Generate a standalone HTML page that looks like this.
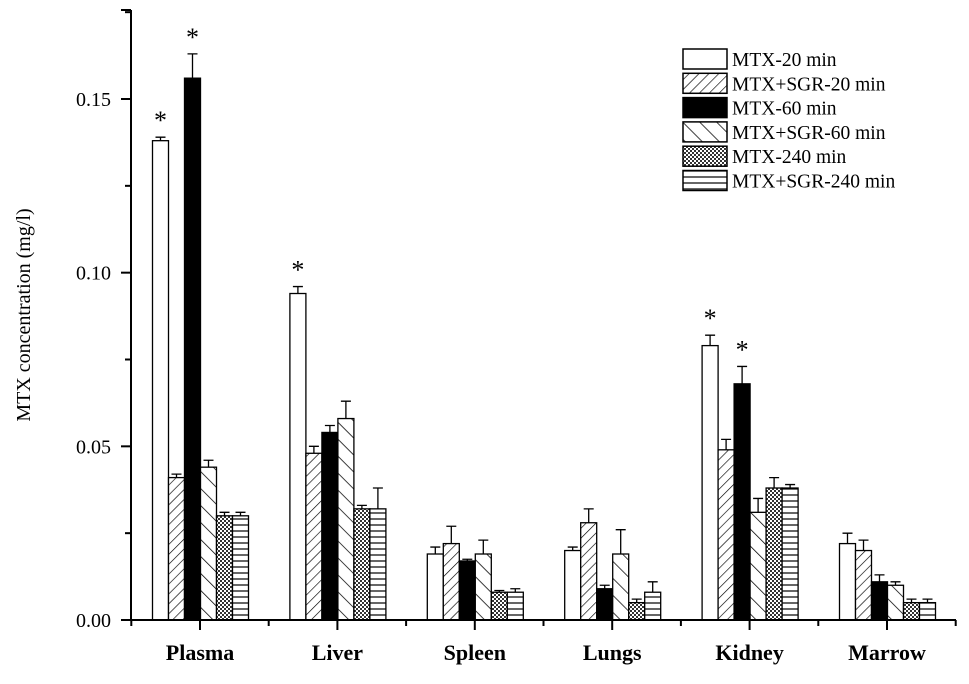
<!DOCTYPE html>
<html><head><meta charset="utf-8"><style>
body{margin:0;background:#fff}
text{font-family:"Liberation Serif",serif;fill:#000}
</style></head><body>
<svg id="chart" width="969" height="679" xmlns="http://www.w3.org/2000/svg">
<defs>
<pattern id="p1" width="7" height="7" patternUnits="userSpaceOnUse" patternTransform="rotate(45)"><rect width="7" height="7" fill="#fff"/><line x1="0" y1="0" x2="0" y2="7" stroke="#000" stroke-width="1.3"/></pattern>
<pattern id="p3" width="12" height="12" patternUnits="userSpaceOnUse" patternTransform="rotate(-45)"><rect width="12" height="12" fill="#fff"/><line x1="0" y1="0" x2="0" y2="12" stroke="#000" stroke-width="1.5"/></pattern>
<pattern id="p4" width="4" height="4" patternUnits="userSpaceOnUse"><rect width="4" height="4" fill="#fff"/><rect width="2" height="2" fill="#333"/><rect x="2" y="2" width="2" height="2" fill="#333"/></pattern>
<pattern id="p5" width="6" height="6" patternUnits="userSpaceOnUse"><rect width="6" height="6" fill="#fff"/><line x1="0" y1="3" x2="6" y2="3" stroke="#000" stroke-width="1.2"/></pattern>
</defs>
<g id="bars"></g>
<g id="axes"></g>
</svg>
<script>
const categories=["Plasma","Liver","Spleen","Lungs","Kidney","Marrow"];
const seriesNames=["MTX-20 min","MTX+SGR-20 min","MTX-60 min","MTX+SGR-60 min","MTX-240 min","MTX+SGR-240 min"];
const s1=[0.138,0.094,0.019,0.020,0.079,0.022];
const s2=[0.041,0.048,0.022,0.028,0.049,0.020];
const s3=[0.156,0.054,0.017,0.009,0.068,0.011];
const s4=[0.044,0.058,0.019,0.019,0.031,0.010];
const s5=[0.030,0.032,0.008,0.005,0.038,0.005];
const s6=[0.030,0.032,0.008,0.008,0.038,0.005];
const e1=[0.001,0.002,0.002,0.001,0.003,0.003];
const e2=[0.001,0.002,0.005,0.004,0.003,0.003];
const e3=[0.007,0.002,0.0005,0.001,0.005,0.002];
const e4=[0.002,0.005,0.004,0.007,0.004,0.001];
const e5=[0.001,0.001,0.0005,0.001,0.003,0.001];
const e6=[0.001,0.006,0.001,0.003,0.001,0.001];
const stars=[[0,0],[0,2],[1,0],[4,0],[4,2]];
const yTicks=[0,0.05,0.10,0.15];
const yTickLabels=["0.00","0.05","0.10","0.15"];

const NS="http://www.w3.org/2000/svg";
const fills=["#fff","url(#p1)","#000","url(#p3)","url(#p4)","url(#p5)"];
const series=[s1,s2,s3,s4,s5,s6], errs=[e1,e2,e3,e4,e5,e6];
const X0=131,Y0=620,PX=521/0.15;
const y=v=>Y0-v*PX;
const cx=i=>200+137.4*i;
const bw=16;
const bx=(i,s)=>cx(i)-47.5+bw*s;
function mk(tag,attrs,parent){const e=document.createElementNS(NS,tag);for(const k in attrs)e.setAttribute(k,attrs[k]);parent.appendChild(e);return e;}
const gb=document.getElementById('bars'),ga=document.getElementById('axes');
series.forEach((ser,s)=>ser.forEach((v,i)=>{
  const r=mk('rect',{x:bx(i,s),y:y(v),width:bw,height:Y0-y(v),fill:fills[s],stroke:'#000','stroke-width':1.3},gb);
  
  
  const ex=bx(i,s)+bw/2, et=y(v+errs[s][i]);
  const l=mk('path',{d:`M${ex},${y(v)}V${et}M${ex-5},${et}H${ex+5}`,stroke:'#000','stroke-width':1.3,fill:'none'},gb);
  
  
}));
stars.forEach(([i,s])=>{
  const v=series[s][i]+errs[s][i];
  const t=mk('text',{x:bx(i,s)+bw/2,y:y(v)-8,'text-anchor':'middle','font-size':26,'font-family':'Liberation Sans'},gb);
  t.textContent='*';
  
  
});
mk('path',{d:`M${X0},10V${Y0}H956`,stroke:'#000','stroke-width':2,fill:'none'},ga);
for(let k=0;k<=7;k++){const v=k*0.025;const len=k%2?6:10;mk('line',{x1:X0-len,x2:X0,y1:y(v),y2:y(v),stroke:'#000','stroke-width':2},ga);}
mk('line',{x1:X0-10,x2:X0,y1:10,y2:10,stroke:'#000','stroke-width':2},ga);
yTicks.forEach((v,k)=>{const t=mk('text',{x:X0-20,y:y(v)+7,'text-anchor':'end','font-size':20,'font-family':'Liberation Sans'},ga);t.textContent=yTickLabels[k];

});
mk('line',{x1:cx(0)-68.7,x2:cx(0)-68.7,y1:Y0,y2:Y0+6,stroke:'#000','stroke-width':2},ga);
categories.forEach((c,i)=>{
  mk('line',{x1:cx(i),x2:cx(i),y1:Y0,y2:Y0+10,stroke:'#000','stroke-width':2},ga);
  mk('line',{x1:cx(i)+68.7,x2:cx(i)+68.7,y1:Y0,y2:Y0+6,stroke:'#000','stroke-width':2},ga);
  const t=mk('text',{x:cx(i),y:Y0+40,'text-anchor':'middle','font-size':22,'font-weight':'bold'},ga);t.textContent=c;
  
  
});
const yt=mk('text',{x:0,y:0,transform:`translate(30,315) rotate(-90)`,'text-anchor':'middle','font-size':20},ga);
yt.textContent='MTX concentration (mg/l)';


seriesNames.forEach((n,s)=>{
  const g=mk('g',{},ga);
  
  
  const ly=49+24.3*s;
  mk('rect',{x:683,y:ly,width:44,height:20,fill:fills[s],stroke:'#000','stroke-width':1.5},g);
  const t=mk('text',{x:732,y:ly+17,'font-size':19.5},g);t.textContent=n;
});
</script>
</body></html>
